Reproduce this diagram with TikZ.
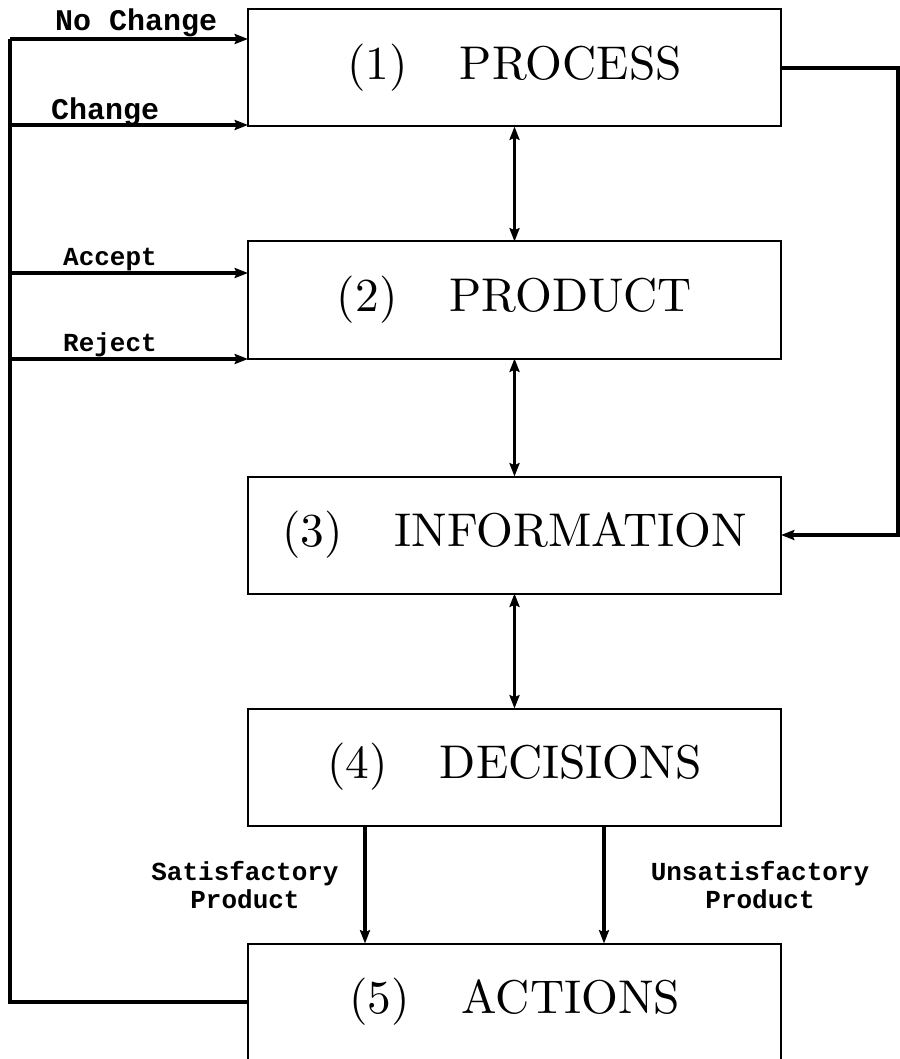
\documentclass[tikz,border=0pt]{standalone}
\usepackage{fontspec}
\usetikzlibrary{arrows.meta}
\newfontfamily\etiq{Liberation Mono}
\newfontfamily\rotulo{lmroman10-regular.otf}

\begin{document}
\begin{tikzpicture}[x = .75pt, y = -.75pt,
  caja/.style = {draw, line width = 1.5, minimum width = 399.75pt, minimum height = 87.75pt, %
    inner sep = 0, outer sep = 0, font = \rotulo\fontsize{35.5}{40}\selectfont},
  punta/.tip = {Stealth[length = 10pt, width = 7.5pt, inset = 1.5pt]},
  flecha/.style = {-punta, line width = 3.2},
  doble/.style = {punta-punta, line width = 2.6},
  etiqueta/.style = {font = \etiq\bfseries\fontsize{19.5}{21}\selectfont, inner sep = 0, align = center},
  etiqueta grande/.style = {etiqueta, font = \etiq\bfseries\fontsize{22.5}{21}\selectfont}
]
\useasboundingbox (0, 0) rectangle (899, 1059);
\node[caja] (proceso) at (514.5, 68) {(1)\hspace{1.1em}PROCESS};
\node[caja] (producto) at (514.5, 300) {(2)\hspace{1.1em}PRODUCT};
\node[caja] (informacion) at (514.5, 535) {(3)\hspace{1.1em}INFORMATION};
\node[caja] (decisiones) at (514.5, 767) {(4)\hspace{1.1em}DECISIONS};
\node[caja] (acciones) at (514.5, 1002) {(5)\hspace{1.1em}ACTIONS};
% lazo de la izquierda
\coordinate (nocambio) at (10, 39);
\coordinate (cambio) at (10, 125);
\coordinate (acepta) at (10, 273);
\coordinate (rechaza) at (10, 359);
\draw[line width = 3.2] (acciones.west) -| (nocambio);
\draw[flecha] (nocambio) -- node[etiqueta grande, above, pos = .53] {No Change} (nocambio -| proceso.west);
\draw[flecha] (cambio) -- node[etiqueta grande, above = -2pt, pos = .4] {Change} (cambio -| proceso.west);
\draw[flecha] (acepta) -- node[etiqueta, above, pos = .42] {Accept} (acepta -| producto.west);
\draw[flecha] (rechaza) -- node[etiqueta, above, pos = .42] {Reject} (rechaza -| producto.west);
% columna central
\draw[doble] (proceso) -- (producto);
\draw[doble] (producto) -- (informacion);
\draw[doble] (informacion) -- (decisiones);
\draw[flecha] (proceso.east) -- ++(117, 0) |- (informacion.east);
\draw[flecha] ([xshift = 87.75pt]decisiones.south west) -- ([xshift = 87.75pt]acciones.north west);
\draw[flecha] ([xshift = 267pt]decisiones.south west) -- ([xshift = 267pt]acciones.north west);
\node[etiqueta] (satisf) at (245, 885) {Satisfactory\\Product};
\node[etiqueta] (insatisf) at (760, 885) {Unsatisfactory\\Product};
\end{tikzpicture}
\end{document}
